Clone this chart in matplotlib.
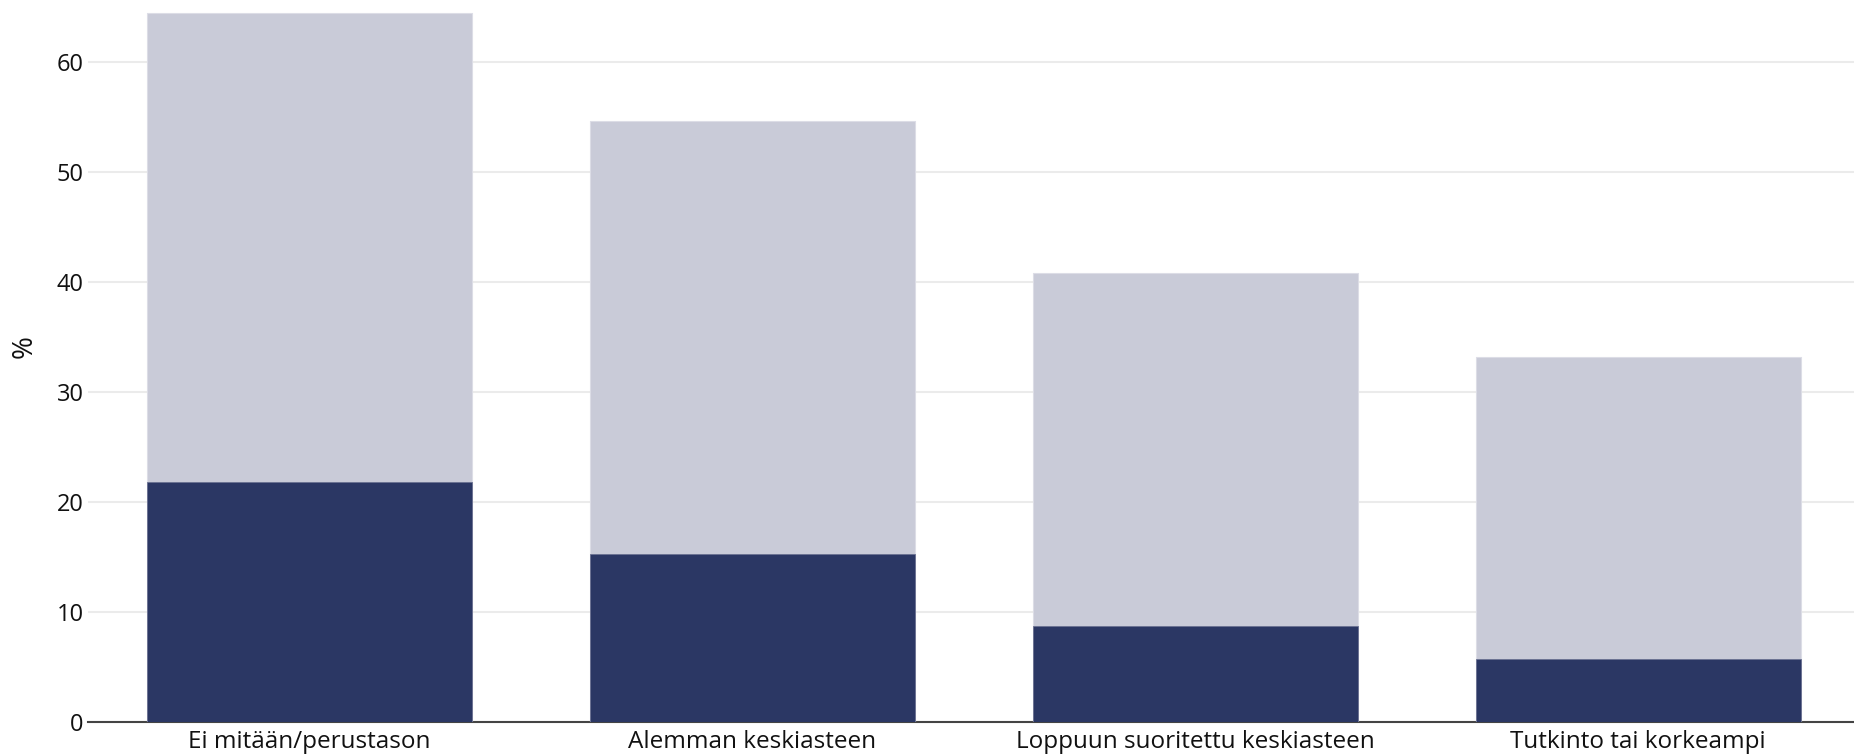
import matplotlib
matplotlib.use("Agg")
import matplotlib.pyplot as plt
import numpy as np

categories = ["Ei mitään/perustason", "Alemman keskiasteen",
              "Loppuun suoritettu keskiasteen", "Tutkinto tai korkeampi"]
total_values = [64.5, 54.6, 40.8, 33.2]
dark_values = [21.8, 15.3, 8.7, 5.7]
y_ticks = [0, 10, 20, 30, 40, 50, 60]

plt.rcParams['font.family'] = ['Open Sans', 'DejaVu Sans']

fig = plt.figure(figsize=(18.54, 7.56), dpi=100)
ax = fig.add_axes([88/1854, 34/756, 1 - 88/1854, 722/756])

x = np.arange(len(categories))
ax.bar(x, total_values, width=0.734, color='#c9cbd8', edgecolor='#dcdde6',
       linewidth=0.8, zorder=2)
ax.bar(x, dark_values, width=0.734, color='#2b3764', edgecolor='#6a7192',
       linewidth=0.6, zorder=3)

ax.set_xlim(-0.5, 3.487)
ax.set_ylim(0, 65.64)
ax.set_yticks(y_ticks)
ax.set_yticklabels([str(v) for v in y_ticks])
ax.set_xticks(x)
ax.set_xticklabels(categories)

ax.grid(axis='y', color='#ebebeb', linewidth=1.5, zorder=0)
ax.grid(axis='x', visible=False)
ax.set_axisbelow(True)

for s in ['top', 'right', 'left']:
    ax.spines[s].set_visible(False)
ax.spines['bottom'].set_color('#444444')
ax.spines['bottom'].set_linewidth(1.5)
ax.spines['bottom'].set_zorder(1)

ax.tick_params(axis='y', length=0, pad=3, labelsize=17, labelcolor='#111111')
ax.tick_params(axis='x', length=0, pad=6, labelsize=17.5, labelcolor='#111111')

ax.set_ylabel('%', fontsize=20, color='#111111')
ax.yaxis.set_label_coords(-0.028, 0.52)

fig.savefig('out.png', dpi=100)
